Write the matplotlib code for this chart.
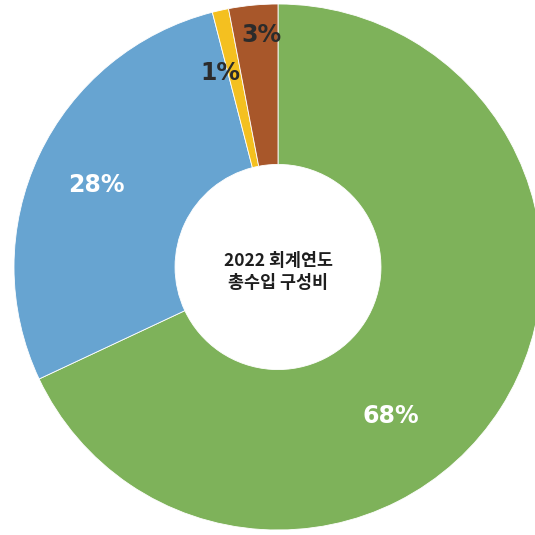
import matplotlib
matplotlib.use('Agg')
import matplotlib.pyplot as plt

categories = ['green', 'blue', 'yellow', 'brown']
shares = [68, 28, 1, 3]
labels = ['68%', '28%', '1%', '3%']
colors = ['#7EB25A', '#67A4D1', '#F4C020', '#A8572A']
label_colors = ['white', 'white', '#2b2b2b', '#2b2b2b']
# label positions in units of outer radius
label_pos = [(0.428, -0.568), (-0.689, 0.311), (-0.220, 0.739), (-0.061, 0.883)]

fig = plt.figure(figsize=(5.35, 5.35), dpi=100)
ax = fig.add_axes([14/535, 5/535, 528/535, 526/535])
ax.pie(shares, colors=colors, startangle=90, counterclock=False, radius=1,
       wedgeprops=dict(width=0.61, edgecolor='white', linewidth=0.6))
ax.set_xlim(-1, 1)
ax.set_ylim(-1, 1)
ax.set_aspect('auto')
ax.axis('off')

for lab, (x, y), c in zip(labels, label_pos, label_colors):
    ax.text(x, y, lab, ha='center', va='center', fontsize=17, color=c,
            family='DejaVu Sans', fontweight='bold')

ax.text(0, -0.02, '2022 회계연도\n총수입 구성비', ha='center', va='center', fontsize=12.5,
        color='#1e1e1e', family=['Noto Sans CJK KR', 'DejaVu Sans'],
        fontweight='bold', linespacing=1.3)

fig.savefig('out.png', dpi=100)
